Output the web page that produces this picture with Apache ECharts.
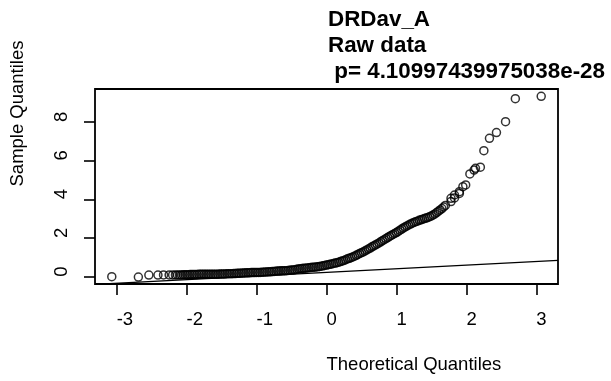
<!DOCTYPE html>
<html>
<head>
<meta charset="utf-8">
<script src="https://cdn.jsdelivr.net/npm/echarts@6/dist/echarts.min.js"></script>
<style>
    html, body {margin: 0; padding: 0; background: #fff;}
    #qqPlot {width: 611px; height: 381px;}
</style>
</head>
<body>
<div id="qqPlot"></div>
<script>
// theoretical quantiles (x) and sample quantiles (y)
var theoreticalQ = [
    -3.07, -2.69, -2.54, -2.41, -2.33, -2.25, -2.20, -2.16, -2.13,
    -2.100, -2.075, -2.050, -2.025, -2.000, -1.975, -1.950, -1.925, -1.900, -1.875,
    -1.850, -1.825, -1.800, -1.775, -1.750, -1.725, -1.700, -1.675, -1.650, -1.625,
    -1.600, -1.575, -1.550, -1.525, -1.500, -1.475, -1.450, -1.425, -1.400, -1.375,
    -1.350, -1.325, -1.300, -1.275, -1.250, -1.225, -1.200, -1.175, -1.150, -1.125,
    -1.100, -1.075, -1.050, -1.025, -1.000, -0.975, -0.950, -0.925, -0.900, -0.875,
    -0.850, -0.825, -0.800, -0.775, -0.750, -0.725, -0.700, -0.675, -0.650, -0.625,
    -0.600, -0.575, -0.550, -0.525, -0.500, -0.475, -0.450, -0.425, -0.400, -0.375,
    -0.350, -0.325, -0.300, -0.275, -0.250, -0.225, -0.200, -0.175, -0.150, -0.125,
    -0.100, -0.075, -0.050, -0.025, 0.000, 0.025, 0.050, 0.075, 0.100, 0.125,
    0.150, 0.175, 0.200, 0.225, 0.250, 0.275, 0.300, 0.325, 0.350, 0.375,
    0.400, 0.425, 0.450, 0.475, 0.500, 0.525, 0.550, 0.575, 0.600, 0.625,
    0.650, 0.675, 0.700, 0.725, 0.750, 0.775, 0.800, 0.825, 0.850, 0.875,
    0.900, 0.925, 0.950, 0.975, 1.000, 1.025, 1.050, 1.075, 1.100, 1.125,
    1.150, 1.175, 1.200, 1.225, 1.250, 1.275, 1.300, 1.325, 1.350, 1.375,
    1.400, 1.425, 1.450, 1.475, 1.500, 1.525, 1.550, 1.575, 1.600, 1.625,
    1.650, 1.675, 1.700,
    1.78, 1.78, 1.83, 1.83, 1.90, 1.90, 1.95, 1.99, 2.05, 2.11,
    2.13, 2.20, 2.25, 2.33, 2.43, 2.56, 2.70, 3.07
];
var sampleQ = [
    0.00, -0.02, 0.08, 0.08, 0.09, 0.09, 0.09, 0.09, 0.09,
    0.09, 0.09, 0.10, 0.10, 0.10, 0.10, 0.11, 0.11, 0.11, 0.11,
    0.11, 0.12, 0.12, 0.12, 0.12, 0.12, 0.12, 0.13, 0.13, 0.13,
    0.13, 0.13, 0.13, 0.14, 0.14, 0.14, 0.14, 0.15, 0.15, 0.15,
    0.15, 0.16, 0.16, 0.17, 0.18, 0.18, 0.19, 0.19, 0.20, 0.20,
    0.20, 0.21, 0.21, 0.21, 0.22, 0.22, 0.22, 0.23, 0.23, 0.24,
    0.24, 0.25, 0.25, 0.26, 0.27, 0.28, 0.29, 0.29, 0.30, 0.30,
    0.31, 0.31, 0.32, 0.33, 0.34, 0.35, 0.36, 0.38, 0.40, 0.41,
    0.42, 0.43, 0.44, 0.45, 0.46, 0.47, 0.48, 0.49, 0.50, 0.51,
    0.53, 0.54, 0.56, 0.58, 0.60, 0.62, 0.64, 0.66, 0.68, 0.70,
    0.72, 0.75, 0.78, 0.81, 0.84, 0.88, 0.92, 0.95, 0.98, 1.02,
    1.06, 1.10, 1.15, 1.20, 1.24, 1.28, 1.33, 1.38, 1.43, 1.48,
    1.54, 1.59, 1.64, 1.69, 1.74, 1.80, 1.86, 1.91, 1.97, 2.02,
    2.08, 2.13, 2.18, 2.23, 2.28, 2.34, 2.40, 2.46, 2.52, 2.57,
    2.62, 2.67, 2.72, 2.76, 2.80, 2.84, 2.87, 2.91, 2.94, 2.97,
    3.00, 3.03, 3.06, 3.10, 3.14, 3.19, 3.24, 3.31, 3.38, 3.45,
    3.52, 3.60, 3.68,
    3.88, 4.05, 4.07, 4.22, 4.30, 4.39, 4.65, 4.74, 5.31, 5.51,
    5.60, 5.66, 6.51, 7.15, 7.45, 8.01, 9.20, 9.32
];
// reference line (qqline) end points at the plot edges
var lineX = [-3.31, 3.31];
var lineY = [-0.40, 0.84];

var xTicks = [-3, -2, -1, 0, 1, 2, 3];
var yTicks = [0, 2, 4, 6, 8];

var titleText = 'DRDav_A\nRaw data\n p= 4.10997439975038e-28';

var points = [];
for (var i = 0; i < theoreticalQ.length; i++) {
    points.push([theoreticalQ[i], sampleQ[i]]);
}
var linePts = [[lineX[0], lineY[0]], [lineX[1], lineY[1]]];

var fontFam = '"Liberation Sans", Arial, sans-serif';

var option = {
    animation: false,
    backgroundColor: '#fff',
    title: {
        text: titleText,
        left: 328,
        top: 7,
        padding: 0,
        textStyle: {
            fontFamily: fontFam,
            fontSize: 22.4,
            fontWeight: 'bold',
            color: '#000',
            lineHeight: 26
        }
    },
    grid: {
        left: 95,
        top: 89,
        width: 463,
        height: 195,
        show: true,
        borderColor: '#000',
        borderWidth: 1.8,
        containLabel: false
    },
    xAxis: {
        type: 'value',
        min: -3.31,
        max: 3.31,
        name: 'Theoretical Quantiles',
        nameLocation: 'middle',
        nameGap: 81,
        nameTextStyle: {
            fontFamily: fontFam,
            fontSize: 18.5,
            color: '#000',
            align: 'left',
            verticalAlign: 'middle'
        },
        splitLine: {show: false},
        axisLine: {show: false, onZero: false},
        axisTick: {
            show: true,
            length: 11,
            customValues: xTicks,
            lineStyle: {color: '#000', width: 1.6}
        },
        axisLabel: {
            customValues: xTicks,
            margin: 36,
            fontFamily: fontFam,
            fontSize: 18.5,
            color: '#000',
            align: 'left',
            verticalAlign: 'middle'
        }
    },
    yAxis: {
        type: 'value',
        min: -0.38,
        max: 9.70,
        name: 'Sample Quantiles',
        nameLocation: 'middle',
        nameGap: 77,
        nameRotate: 90,
        nameTextStyle: {
            fontFamily: fontFam,
            fontSize: 18.5,
            color: '#000',
            align: 'left',
            verticalAlign: 'middle'
        },
        splitLine: {show: false},
        axisLine: {show: false, onZero: false},
        axisTick: {
            show: true,
            length: 11,
            customValues: yTicks,
            lineStyle: {color: '#000', width: 1.6}
        },
        axisLabel: {
            customValues: yTicks,
            rotate: 90,
            margin: 33,
            fontFamily: fontFam,
            fontSize: 18.5,
            color: '#000',
            align: 'left',
            verticalAlign: 'middle'
        }
    },
    series: [{
        type: 'scatter',
        data: points,
        symbol: 'circle',
        symbolSize: 8,
        itemStyle: {
            color: 'rgba(0,0,0,0)',
            borderColor: '#000',
            borderWidth: 1.5
        },
        emphasis: {disabled: true}
    }, {
        type: 'line',
        data: linePts,
        symbol: 'none',
        clip: true,
        lineStyle: {color: '#000', width: 1.3},
        z: 3
    }]
};

var qqChart = echarts.init(document.getElementById('qqPlot'));
qqChart.setOption(option);
</script>
</body>
</html>
